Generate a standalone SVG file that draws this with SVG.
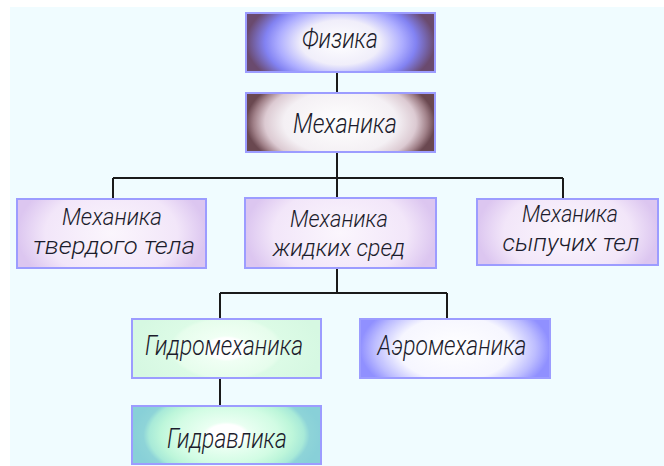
<svg xmlns="http://www.w3.org/2000/svg" width="664" height="466" viewBox="0 0 664 466">
<style>
.box{stroke:#9c9cff;stroke-width:2}
.t{font-family:Roboto,"DejaVu Sans Condensed",sans-serif;font-style:italic;font-weight:300;font-size:27px;fill:#1c1c2c;text-anchor:middle}
.t2{font-size:24px}
.ln{stroke:#1a1a1a;stroke-width:2;fill:none}
</style>
<defs>
<radialGradient id="gPhys" cx="0.5" cy="0.5" r="0.5" gradientTransform="translate(0.5,0.5) scale(1,1.8) translate(-0.5,-0.5)">
<stop offset="0" stop-color="#ffffff"/><stop offset="0.42" stop-color="#f0eefa"/><stop offset="0.66" stop-color="#acacff"/><stop offset="0.8" stop-color="#8282f2"/><stop offset="1" stop-color="#6a4a6e"/>
</radialGradient>
<radialGradient id="gMech" cx="0.5" cy="0.5" r="0.5" gradientTransform="translate(0.5,0.5) scale(1,1.8) translate(-0.5,-0.5)">
<stop offset="0" stop-color="#ffffff"/><stop offset="0.6" stop-color="#f4f0f4"/><stop offset="0.8" stop-color="#dccad2"/><stop offset="0.92" stop-color="#a08088"/><stop offset="1" stop-color="#6a4850"/>
</radialGradient>
<radialGradient id="gLav" cx="0.5" cy="0.5" r="0.5" gradientTransform="translate(0.5,0.5) scale(1,1.8) translate(-0.5,-0.5)">
<stop offset="0" stop-color="#fbf6fd"/><stop offset="0.7" stop-color="#f2e6f9"/><stop offset="1" stop-color="#dcc6f0"/>
</radialGradient>
<radialGradient id="gHydro" cx="0.5" cy="0.5" r="0.5" gradientTransform="translate(0.5,0.5) scale(1,1.8) translate(-0.5,-0.5)">
<stop offset="0" stop-color="#ffffff"/><stop offset="0.2" stop-color="#ffffff"/><stop offset="0.24" stop-color="#f0fff4"/><stop offset="0.55" stop-color="#e6fdec"/><stop offset="0.6" stop-color="#dcfbe6"/><stop offset="1" stop-color="#d6f8e2"/>
</radialGradient>
<radialGradient id="gAero" cx="0.5" cy="0.5" r="0.5" gradientTransform="translate(0.5,0.5) scale(1,1.8) translate(-0.5,-0.5)">
<stop offset="0" stop-color="#ffffff"/><stop offset="0.6" stop-color="#f6f6ff"/><stop offset="0.85" stop-color="#bcbcff"/><stop offset="1" stop-color="#9090ff"/>
</radialGradient>
<radialGradient id="gHydr" cx="0.5" cy="0.5" r="0.5" gradientTransform="translate(0.5,0.5) scale(1,1.8) translate(-0.5,-0.5)">
<stop offset="0" stop-color="#ffffff"/><stop offset="0.2" stop-color="#ffffff"/><stop offset="0.25" stop-color="#eafff2"/><stop offset="0.55" stop-color="#d2fce4"/><stop offset="0.7" stop-color="#bdf6da"/><stop offset="0.82" stop-color="#a8ead8"/><stop offset="0.88" stop-color="#8ed4d8"/><stop offset="1" stop-color="#88d0d8"/>
</radialGradient>
</defs>
<rect x="0" y="0" width="664" height="466" fill="#ffffff"/>
<rect x="10" y="7" width="654" height="459" fill="#f0fcff"/>
<g id="connectors">
<path class="ln" d="M337 72 V93"/>
<path class="ln" d="M337 152 V178 M113 178 H563 M113 178 V199 M337 178 V198 M563 178 V199"/>
<path class="ln" d="M337 268 V293 M220 293 H447 M220 293 V319 M447 293 V319"/>
<path class="ln" d="M220 378 V406"/>
</g>
<g id="n-fizika">
<rect class="box" x="246" y="13" width="189" height="59" fill="url(#gPhys)"/>
<text class="t" x="340" y="48" textLength="76" lengthAdjust="spacingAndGlyphs">Физика</text>
</g>
<g id="n-mehanika">
<rect class="box" x="246" y="93" width="189" height="59" fill="url(#gMech)"/>
<text class="t" x="345" y="133" textLength="104" lengthAdjust="spacingAndGlyphs">Механика</text>
</g>
<g id="n-tverd">
<rect class="box" x="17" y="199" width="189" height="69" fill="url(#gLav)"/>
<text class="t t2" x="112" y="225" textLength="100" lengthAdjust="spacingAndGlyphs">Механика</text>
<text class="t t2" x="114" y="254" textLength="162" lengthAdjust="spacingAndGlyphs">твердого тела</text>
</g>
<g id="n-zhidk">
<rect class="box" x="245" y="198" width="191" height="70" fill="url(#gLav)"/>
<text class="t t2" x="339" y="227" textLength="98" lengthAdjust="spacingAndGlyphs">Механика</text>
<text class="t t2" x="339" y="256" textLength="132" lengthAdjust="spacingAndGlyphs">жидких сред</text>
</g>
<g id="n-sypuch">
<rect class="box" x="477" y="199" width="181" height="66" fill="url(#gLav)"/>
<text class="t t2" x="570" y="222" textLength="96" lengthAdjust="spacingAndGlyphs">Механика</text>
<text class="t t2" x="571" y="251" textLength="137" lengthAdjust="spacingAndGlyphs">сыпучих тел</text>
</g>
<g id="n-gidromeh">
<rect class="box" x="132" y="319" width="189" height="59" fill="url(#gHydro)"/>
<text class="t" x="224" y="355" textLength="158" lengthAdjust="spacingAndGlyphs">Гидромеханика</text>
</g>
<g id="n-aero">
<rect class="box" x="360" y="319" width="190" height="59" fill="url(#gAero)"/>
<text class="t" x="452" y="355" textLength="149" lengthAdjust="spacingAndGlyphs">Аэромеханика</text>
</g>
<g id="n-gidravl">
<rect class="box" x="132" y="406" width="189" height="58" fill="url(#gHydr)"/>
<text class="t" x="227" y="448" textLength="120" lengthAdjust="spacingAndGlyphs">Гидравлика</text>
</g>
</svg>
